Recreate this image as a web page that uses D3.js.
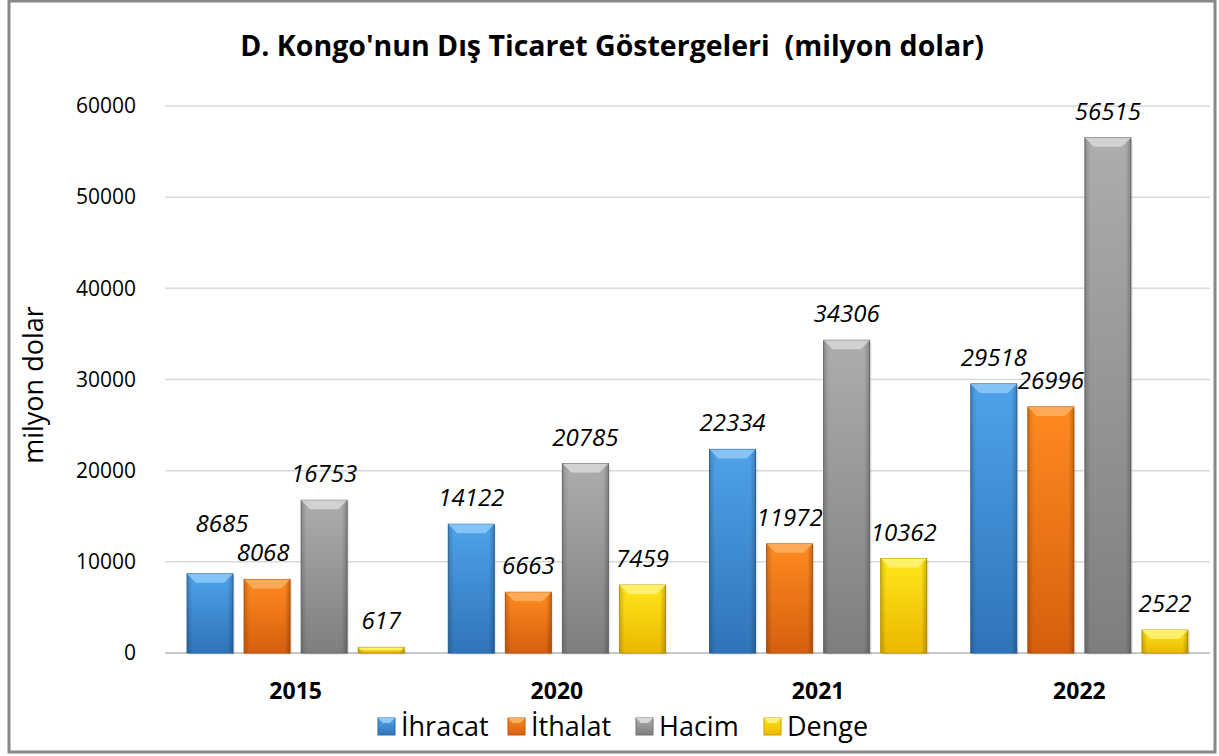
<!DOCTYPE html>
<html><head><meta charset="utf-8">
<script src="https://cdn.jsdelivr.net/npm/d3@7"></script>
<style>
html,body{margin:0;padding:0;background:#fff;}
svg{display:block;font-family:"Open Sans",sans-serif;}
</style></head>
<body>
<svg id="c" width="1219" height="756"></svg>
<script>
const categories = ["2015", "2020", "2021", "2022"];
const seriesNames = ["İhracat", "İthalat", "Hacim", "Denge"];
const ihracat = [8685, 14122, 22334, 29518];
const ithalat = [8068, 6663, 11972, 26996];
const hacim = [16753, 20785, 34306, 56515];
const denge = [617, 7459, 10362, 2522];
const yTicks = [0, 10000, 20000, 30000, 40000, 50000, 60000];
const titleText = "D. Kongo'nun Dış Ticaret Göstergeleri  (milyon dolar)";
const yTitle = "milyon dolar";

const seriesValues = [ihracat, ithalat, hacim, denge];
const colors = [
  {top:"#4fa2ea", bot:"#2f74b8", stroke:"#2a6aa8", bevel:"#8fcaf8"},
  {top:"#ff8a20", bot:"#d65f0e", stroke:"#c0580c", bevel:"#ffb060"},
  {top:"#adadad", bot:"#7e7e7e", stroke:"#6e6e6e", bevel:"#d8d8d8"},
  {top:"#ffe61a", bot:"#ebb800", stroke:"#c9a000", bevel:"#fff27a"}
];

const svg = d3.select("#c");
const defs = svg.append("defs");
colors.forEach((c,i)=>{
  const g = defs.append("linearGradient").attr("id","g"+i).attr("x1",0).attr("y1",0).attr("x2",0).attr("y2",1);
  g.append("stop").attr("offset","0%").attr("stop-color",c.top);
  g.append("stop").attr("offset","100%").attr("stop-color",c.bot);
  const h = defs.append("linearGradient").attr("id","h"+i).attr("x1",0).attr("y1",0).attr("x2",1).attr("y2",0);
  h.append("stop").attr("offset","0%").attr("stop-color","#000").attr("stop-opacity",0.18);
  h.append("stop").attr("offset","12%").attr("stop-color","#000").attr("stop-opacity",0);
  h.append("stop").attr("offset","88%").attr("stop-color","#000").attr("stop-opacity",0);
  h.append("stop").attr("offset","100%").attr("stop-color","#000").attr("stop-opacity",0.22);
});

// outer border
svg.append("rect").attr("x",9).attr("y",1).attr("width",1206).attr("height",751)
  .attr("fill","#fff").attr("stroke","#888").attr("stroke-width",3);

const pLeft = 165, pRight = 1210, pTop = 106, pBottom = 653;
const y = d3.scaleLinear().domain([0,60000]).range([pBottom, pTop]);
const x0 = d3.scaleBand().domain(categories).range([pLeft,pRight]).padding(0);
const x1 = d3.scaleBand().domain(seriesNames).range([0,x0.bandwidth()]).paddingInner(0.193).paddingOuter(0.386);

// title
svg.append("text").attr("x",612).attr("y",56).attr("text-anchor","middle")
  .style("white-space","pre").attr("xml:space","preserve")
  .attr("font-size",28.5).attr("font-weight","bold").attr("fill","#000").text(titleText);

// grid
svg.append("g").selectAll("line").data(yTicks).join("line")
  .attr("x1",pLeft).attr("x2",pRight).attr("y1",d=>y(d)).attr("y2",d=>y(d))
  .attr("stroke",d=>d===0?"#c8c8c8":"#d9d9d9").attr("stroke-width",d=>d===0?2:1.5);

// y axis
const yAxis = d3.axisLeft(y).tickValues(yTicks).tickSize(0).tickPadding(0).tickFormat(d3.format("d"));
const ya = svg.append("g").attr("transform","translate(136,0)").call(yAxis);
ya.select(".domain").remove();
ya.selectAll("text").attr("font-size",21).attr("fill","#000").attr("font-family","Open Sans");

svg.append("text").attr("transform","translate(43,385) rotate(-90)").attr("text-anchor","middle")
  .attr("font-size",27).attr("fill","#000").text(yTitle);

// x axis labels
const xAxis = d3.axisBottom(x0).tickSize(0).tickPadding(0);
const xa = svg.append("g").attr("transform",`translate(0,${pBottom})`).call(xAxis);
xa.select(".domain").remove();
xa.selectAll("text").attr("y",46).attr("dy",0).attr("font-size",23).attr("font-weight","bold").attr("fill","#000").attr("font-family","Open Sans");

// bars
const data = [];
categories.forEach((c,ci)=>seriesNames.forEach((s,si)=>data.push({c,s,si,v:seriesValues[si][ci]})));
const bars = svg.append("g").selectAll("g").data(data).join("g")
  .attr("transform",d=>`translate(${x0(d.c)+x1(d.s)},0)`);
const bw = x1.bandwidth();
bars.append("rect").attr("x",2).attr("y",d=>y(d.v)+2).attr("width",bw).attr("height",d=>pBottom-y(d.v))
  .attr("fill","#000").attr("opacity",0.08);
bars.append("rect").attr("x",0).attr("y",d=>y(d.v)).attr("width",bw).attr("height",d=>pBottom-y(d.v))
  .attr("fill",d=>`url(#g${d.si})`).attr("stroke",d=>colors[d.si].stroke).attr("stroke-width",1);
bars.append("rect").attr("x",0).attr("y",d=>y(d.v)).attr("width",bw).attr("height",d=>pBottom-y(d.v))
  .attr("fill",d=>`url(#h${d.si})`);
bars.append("path").attr("d",d=>{
  const t=y(d.v), h=Math.min(9,(pBottom-t)/2);
  return `M0,${t} L${bw},${t} L${bw-h},${t+h} L${h},${t+h} Z`;
}).attr("fill",d=>colors[d.si].bevel).attr("opacity",0.85);

// labels
const labels = svg.append("g").selectAll("text").data(data).join("text")
  .attr("x",d=>x0(d.c)+x1(d.s)+bw/2)
  .attr("y",d=>y(d.v)-18)
  .attr("text-anchor","middle").attr("font-size",24).attr("font-style","italic").attr("fill","#000")
  .text(d=>d.v);
// simple collision avoidance between neighbouring labels
const nodes = labels.nodes();
for (let i=0;i<nodes.length-1;i++){
  const a = nodes[i], b = nodes[i+1];
  if (data[i].c!==data[i+1].c) continue;
  const ba=a.getBBox(), bb=b.getBBox();
  const gap = bb.x - (ba.x+ba.width);
  const dy = Math.abs(+a.getAttribute("y") - +b.getAttribute("y"));
  if (gap < 10 && dy < 18){
    if (data[i].v>=data[i+1].v){
      a.setAttribute("y", +b.getAttribute("y") - 29);
      a.setAttribute("x", +a.getAttribute("x") + 12);
      b.setAttribute("x", +b.getAttribute("x") - 4);
    } else {
      b.setAttribute("y", +a.getAttribute("y") - 29);
    }
  }
}

// legend
const legX = [378, 508, 636, 764];
const leg = svg.append("g").selectAll("g").data(seriesNames).join("g")
  .attr("transform",(d,i)=>`translate(${legX[i]},718)`);
leg.append("rect").attr("width",17).attr("height",17).attr("fill",(d,i)=>`url(#g${i})`).attr("stroke",(d,i)=>colors[i].stroke);
leg.append("path").attr("d","M0,0 L17,0 L12,5 L5,5 Z").attr("fill",(d,i)=>colors[i].bevel);
leg.append("text").attr("x",23).attr("y",18).attr("font-size",27).attr("fill","#000").text(d=>d);
</script>
</body></html>
